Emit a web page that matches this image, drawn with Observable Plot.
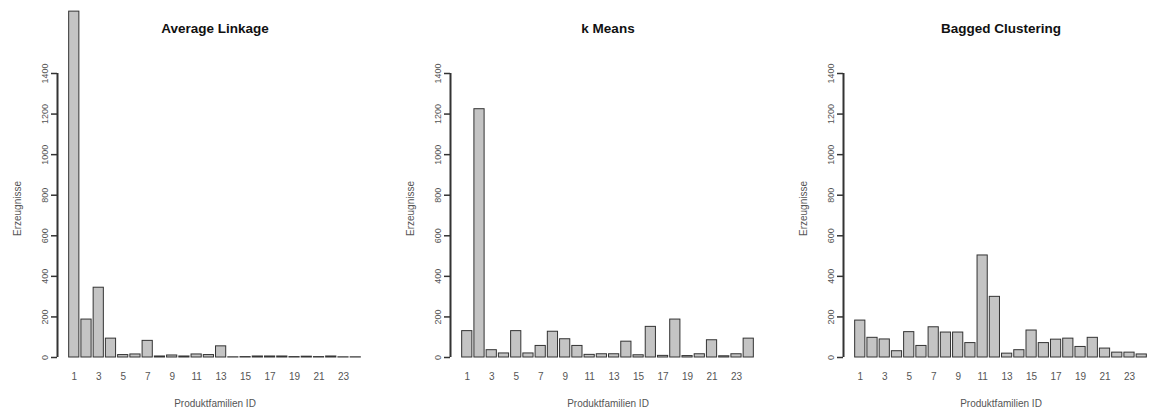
<!DOCTYPE html>
<html>
<head>
<meta charset="utf-8">
<script src="https://cdn.jsdelivr.net/npm/d3@7"></script>
<script src="https://cdn.jsdelivr.net/npm/@observablehq/plot@0.6"></script>
<style>
  html, body { margin: 0; padding: 0; background: #fff; }
  #row { display: flex; width: 1152px; height: 410px; overflow: hidden; }
  #row > svg, #row > figure { flex: none; margin: 0; }
</style>
</head>
<body>
<div id="row"></div>
<script>
// Data
const ids = [1,2,3,4,5,6,7,8,9,10,11,12,13,14,15,16,17,18,19,20,21,22,23,24];
const tickIds = [1,3,5,7,9,11,13,15,17,19,21,23];
const yTicks = [0,200,400,600,800,1000,1200,1400];
const titles = ["Average Linkage", "k Means", "Bagged Clustering"];
const avgLinkage = [1705,187,344,93,12,15,82,5,10,5,15,12,55,1,2,5,5,5,2,4,2,5,1,1];
const kMeans = [130,1224,36,20,130,20,57,127,90,57,13,16,16,78,11,151,8,187,7,16,85,6,16,93];
const bagged = [182,97,89,31,125,57,149,123,123,71,503,299,19,36,133,71,88,93,52,97,44,24,24,15];
const series = [avgLinkage, kMeans, bagged];
const xLabel = "Produktfamilien ID";
const yLabel = "Erzeugnisse";

// R barplot layout: width 1, space 0.2, 4% axis extension
const barLeft = i => 0.2 + 1.2 * i;
const barCenter = i => barLeft(i) + 0.5;
const lo = barLeft(0), hi = barLeft(ids.length - 1) + 1;
const ext = (hi - lo) * 0.04;
const xMin = lo - ext, xMax = hi + ext;

const font = "'Liberation Sans', Arial, Helvetica, sans-serif";
const row = document.getElementById("row");

series.forEach((vals, k) => {
  const data = ids.map((id, i) => ({id, x1: barLeft(i), x2: barLeft(i) + 1, v: vals[i]}));
  const chart = Plot.plot({
    width: 393,
    height: 410,
    marginTop: 73,
    marginBottom: 53,
    marginLeft: 57,
    marginRight: 21,
    style: {fontFamily: font, background: "#fff", color: "#222"},
    x: {domain: [xMin, xMax], axis: null},
    y: {domain: [0, 1400], axis: null},
    marks: [
      Plot.rectY(data, {x1: "x1", x2: "x2", y: "v", fill: "#c4c4c4", stroke: "#333", strokeWidth: 1}),
      Plot.ruleX([xMin], {x: d => d, y1: () => 0, y2: () => 1400, stroke: "#333", strokeWidth: 2}),
      Plot.axisY({ticks: yTicks, tickFormat: d => String(d), label: null, tickSize: 6, tickRotate: -90, tickPadding: 4, fontSize: 9, stroke: "#333", strokeWidth: 1.5, fill: "#555", anchor: "left"}),
      Plot.axisX({ticks: tickIds.map(id => barCenter(id - 1)), tickFormat: d => String(Math.round((d - 0.7) / 1.2) + 1), label: null, tickSize: 0, tickPadding: 15, fontSize: 10, fill: "#555", anchor: "bottom"}),
      Plot.text([xLabel], {text: d => d, frameAnchor: "bottom", dy: 46, fontSize: 10, fill: "#555", lineAnchor: "middle"}),
      Plot.text([yLabel], {text: d => d, frameAnchor: "left", rotate: -90, dx: -40, dy: -7, fontSize: 10, fill: "#555", lineAnchor: "middle", textAnchor: "middle"}),
      Plot.text([titles[k]], {text: d => d, frameAnchor: "top", dy: -45, fontSize: 13.5, fontWeight: "bold", fill: "#111", lineAnchor: "middle"})
    ]
  });
  row.appendChild(chart);
});
</script>
</body>
</html>
